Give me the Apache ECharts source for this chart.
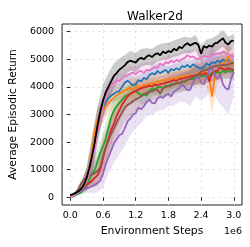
<!DOCTYPE html>
<html><head><meta charset="utf-8">
<script src="https://cdn.jsdelivr.net/npm/echarts@6/dist/echarts.min.js"></script>
<style>html,body{margin:0;padding:0;background:#fff}#c{width:250px;height:247px}</style>
</head><body><div id="c"></div>
<script>
// Environment steps (millions)
const STEPS = [0,0.05,0.1,0.15,0.2,0.25,0.3,0.35,0.4,0.45,0.5,0.55,0.6,0.65,0.7,0.75,0.8,0.85,0.9,0.95,1.0,1.05,1.1,1.15,1.2,1.25,1.3,1.35,1.4,1.45,1.5,1.55,1.6,1.65,1.7,1.75,1.8,1.85,1.9,1.95,2.0,2.05,2.1,2.15,2.2,2.25,2.3,2.35,2.4,2.45,2.5,2.55,2.6,2.65,2.7,2.75,2.8,2.85,2.9,2.95,3.0];
const BAND_STEPS = [0,0.1,0.2,0.3,0.4,0.5,0.6,0.7,0.8,0.9,1.0,1.1,1.2,1.3,1.4,1.5,1.6,1.7,1.8,1.9,2.0,2.1,2.2,2.3,2.4,2.5,2.6,2.7,2.8,2.9,3.0];
const X_TICKS = [0.0,0.6,1.2,1.8,2.4,3.0];
const Y_TICKS = [0,1000,2000,3000,4000,5000,6000];

const BLACK = [80,110,150,220,300,450,700,1050,1500,2000,2600,3100,3500,3800,4000,4200,4400,4500,4620,4700,4780,4900,4950,4920,4880,5000,5060,5000,5100,5150,5080,5180,5220,5150,5280,5220,5300,5260,5380,5320,5450,5400,5520,5580,5500,5560,5600,5520,5200,5480,5420,5500,5460,5580,5600,5680,5760,5600,5540,5660,5680];
const BLUE = [50,90,140,200,320,450,650,1000,1550,2150,2650,3000,3250,3450,3580,3680,3750,3820,3850,4000,4150,4220,4150,4050,4100,4250,4200,4330,4280,4420,4500,4450,4580,4500,4560,4620,4500,4650,4600,4680,4620,4750,4720,4800,4700,4820,4760,4700,4660,4720,4850,4780,4900,4860,4950,4900,5000,4920,4980,4880,4860];
const ORANGE = [30,70,130,200,330,450,650,1050,1700,2400,2800,3000,3150,3280,3400,3520,3600,3700,3760,3820,3880,3920,3960,3900,4000,4030,3980,4080,4050,4100,4150,4120,4200,4180,4260,4220,4300,4280,4330,4300,4360,4340,4400,4380,4420,4400,4460,4500,4480,4560,4520,4300,3650,4400,4620,4700,4850,4920,5100,4850,4780];
const GREEN = [0,20,80,130,180,300,450,650,850,1000,1300,1600,1850,2100,2500,2900,3150,3300,3420,3530,3650,3700,3750,3800,3850,3780,3700,3750,3680,3850,3950,3900,3980,4000,3950,4050,4020,4100,4080,4150,4120,4200,4180,4250,4300,4280,4350,4330,4400,4380,4450,4420,4500,4480,4550,4500,4580,4520,4600,4550,4580];
const RED = [40,80,150,230,300,380,450,520,600,700,800,1000,1400,1800,2100,2450,2650,2950,3150,3350,3500,3650,3750,3800,3850,3900,3950,3980,4000,4050,4030,4080,4060,4100,4120,4150,4180,4200,4250,4220,4280,4300,4320,4350,4380,4400,4420,4430,4450,4480,4500,4200,4520,4560,4600,4700,4650,4620,4680,4640,4600];
const BROWN = [60,100,170,300,500,650,720,780,820,880,950,1100,1500,1800,2050,2300,2500,2700,2900,3080,3250,3350,3400,3480,3550,3600,3650,3720,3780,3820,3850,3880,3900,3750,3950,4000,4020,4050,4100,4130,4150,4180,4200,4250,4280,4350,4420,4460,4550,4600,4620,4680,4720,4750,4760,4780,4800,4780,4820,4850,4860];
const PURPLE = [0,50,120,180,230,280,320,360,400,450,520,600,850,1200,1450,1700,1950,2100,2250,2300,2500,2750,2850,3000,3050,3250,3180,3300,3450,3550,3420,3400,3580,3650,3600,3700,3750,3650,3820,3900,3950,4100,4000,3880,3900,4150,4300,4400,4150,4100,4350,4600,4700,4400,4300,4450,4100,3950,3900,4300,4550];
const PINK = [0,40,110,200,280,400,550,850,1300,1850,2400,2900,3300,3650,3900,4050,4150,4250,4200,4300,4380,4420,4480,4520,4450,4550,4580,4500,4620,4600,4650,4720,4680,4850,4780,4900,4850,4950,4900,4980,4920,5000,5050,5150,5080,5100,5040,5000,5080,5120,5100,5060,5150,5180,5220,5200,5280,5220,5180,5120,5100];

const BLACK_SPREAD = [40,60,150,400,700,700,600,500,450,400,380,350,350,320,300,300,300,300,300,300,300,300,280,280,300,300,300,280,300,280,250];
const BLUE_SPREAD = [30,50,150,350,500,500,400,350,300,300,300,300,280,280,280,280,280,250,250,250,250,250,250,250,280,280,280,300,300,300,300];
const ORANGE_SPREAD = [30,50,150,400,500,450,400,380,350,350,350,350,320,320,320,300,300,300,300,300,300,320,350,400,450,500,600,500,450,450,450];
const GREEN_SPREAD = [20,40,100,250,400,450,500,500,450,400,350,350,320,320,300,300,300,300,280,280,300,300,300,300,300,300,300,300,300,300,300];
const RED_SPREAD = [30,50,100,150,250,400,550,500,450,400,380,350,350,320,300,300,300,300,300,300,300,300,300,320,320,350,350,350,350,350,350];
const BROWN_SPREAD = [30,60,150,300,400,500,650,650,600,550,500,450,420,400,380,350,350,350,350,350,350,350,350,350,350,350,350,350,350,350,350];
const PURPLE_SPREAD = [20,40,80,150,250,350,500,600,700,700,650,600,550,500,500,450,450,450,450,500,500,550,600,650,650,700,750,800,850,900,900];
const PINK_SPREAD = [20,40,100,300,400,450,400,350,320,300,300,300,280,280,280,280,280,280,280,280,280,280,280,300,300,300,300,300,300,300,300];

const UNIT = 0.6; // one x tick spacing (millions of steps)
const runs = [
  {mean: BLUE, spread: BLUE_SPREAD, color: '#1f77b4', band: 'rgba(31,119,180,0.2)'},
  {mean: ORANGE, spread: ORANGE_SPREAD, color: '#ff7f0e', band: 'rgba(255,127,14,0.2)'},
  {mean: GREEN, spread: GREEN_SPREAD, color: '#2ca02c', band: 'rgba(44,160,44,0.2)'},
  {mean: RED, spread: RED_SPREAD, color: '#d62728', band: 'rgba(214,39,40,0.2)'},
  {mean: PURPLE, spread: PURPLE_SPREAD, color: '#9467bd', band: 'rgba(148,103,189,0.2)'},
  {mean: BROWN, spread: BROWN_SPREAD, color: '#8c564b', band: 'rgba(140,86,75,0.2)'},
  {mean: PINK, spread: PINK_SPREAD, color: '#e377c2', band: 'rgba(227,119,194,0.2)'},
  {mean: BLACK, spread: BLACK_SPREAD, color: '#000000', band: 'rgba(0,0,0,0.2)'}
];

const series = [];
runs.forEach((r, k) => {
  const idx = BAND_STEPS.map(s => STEPS.indexOf(s));
  const pts = BAND_STEPS.map((s, i) => [s / UNIT, r.mean[idx[i]] - r.spread[i], r.mean[idx[i]] + r.spread[i]]);
  series.push({type: 'custom', silent: true, z: 1, clip: true,
    data: pts,
    encode: {x: 0, y: [1, 2]},
    renderItem: (params, api) => {
      if (params.dataIndex !== 0) return null;
      const upper = pts.map(p => api.coord([p[0], p[2]]));
      const lower = pts.map(p => api.coord([p[0], p[1]])).reverse();
      return {type: 'polygon', shape: {points: upper.concat(lower)},
        style: {fill: r.band, stroke: null}};
    }});
});
runs.forEach((r, k) => {
  series.push({type: 'line', symbol: 'none', z: 3 + k, clip: false,
    lineStyle: {color: r.color, width: 1.8},
    data: STEPS.map((s, i) => [s / UNIT, r.mean[i]])});
});

const font = 'DejaVu Sans';
const chart = echarts.init(document.getElementById('c'), null, {renderer: 'canvas'});
chart.setOption({
  animation: false,
  backgroundColor: '#fff',
  title: {text: 'Walker2d', left: 150, textAlign: 'center', top: 6,
    textStyle: {fontFamily: font, fontSize: 12, fontWeight: 'normal', color: '#000'}},
  grid: {left: 58, top: 24, width: 184, height: 181, show: true,
    borderColor: '#222', borderWidth: 1, backgroundColor: 'transparent'},
  xAxis: {type: 'value', min: -0.15 / UNIT, max: 3.15 / UNIT, splitNumber: 5,
    name: 'Environment Steps', nameLocation: 'middle', nameGap: 21,
    nameTextStyle: {fontFamily: font, fontSize: 10.8, color: '#000'},
    axisLine: {show: false},
    axisTick: {show: true, length: 3.5, inside: false, lineStyle: {color: '#222'},
      customValues: X_TICKS.map(v => v / UNIT)},
    axisLabel: {fontFamily: font, fontSize: 9.5, color: '#000', margin: 6,
      customValues: X_TICKS.map(v => v / UNIT),
      formatter: v => (v * UNIT).toFixed(1)},
    splitLine: {show: true, lineStyle: {color: '#e3e3e3', width: 0.8, type: [3, 3]}}},
  yAxis: {type: 'value', min: -280, max: 6280, splitNumber: 5,
    name: 'Average Episodic Return', nameLocation: 'middle', nameGap: 40,
    nameTextStyle: {fontFamily: font, fontSize: 10.7, color: '#000'},
    axisLine: {show: false},
    axisTick: {show: true, length: 3.5, inside: false, lineStyle: {color: '#222'},
      customValues: Y_TICKS},
    axisLabel: {fontFamily: font, fontSize: 9.5, color: '#000', margin: 8,
      customValues: Y_TICKS, formatter: v => String(v)},
    splitLine: {show: true, lineStyle: {color: '#e3e3e3', width: 0.8, type: [3, 3]}}},
  graphic: [{type: 'text', right: 8, top: 227,
    style: {text: '1e6', fontFamily: font, fontSize: 9.5, fill: '#000'}}],
  series: series
});
</script></body></html>
